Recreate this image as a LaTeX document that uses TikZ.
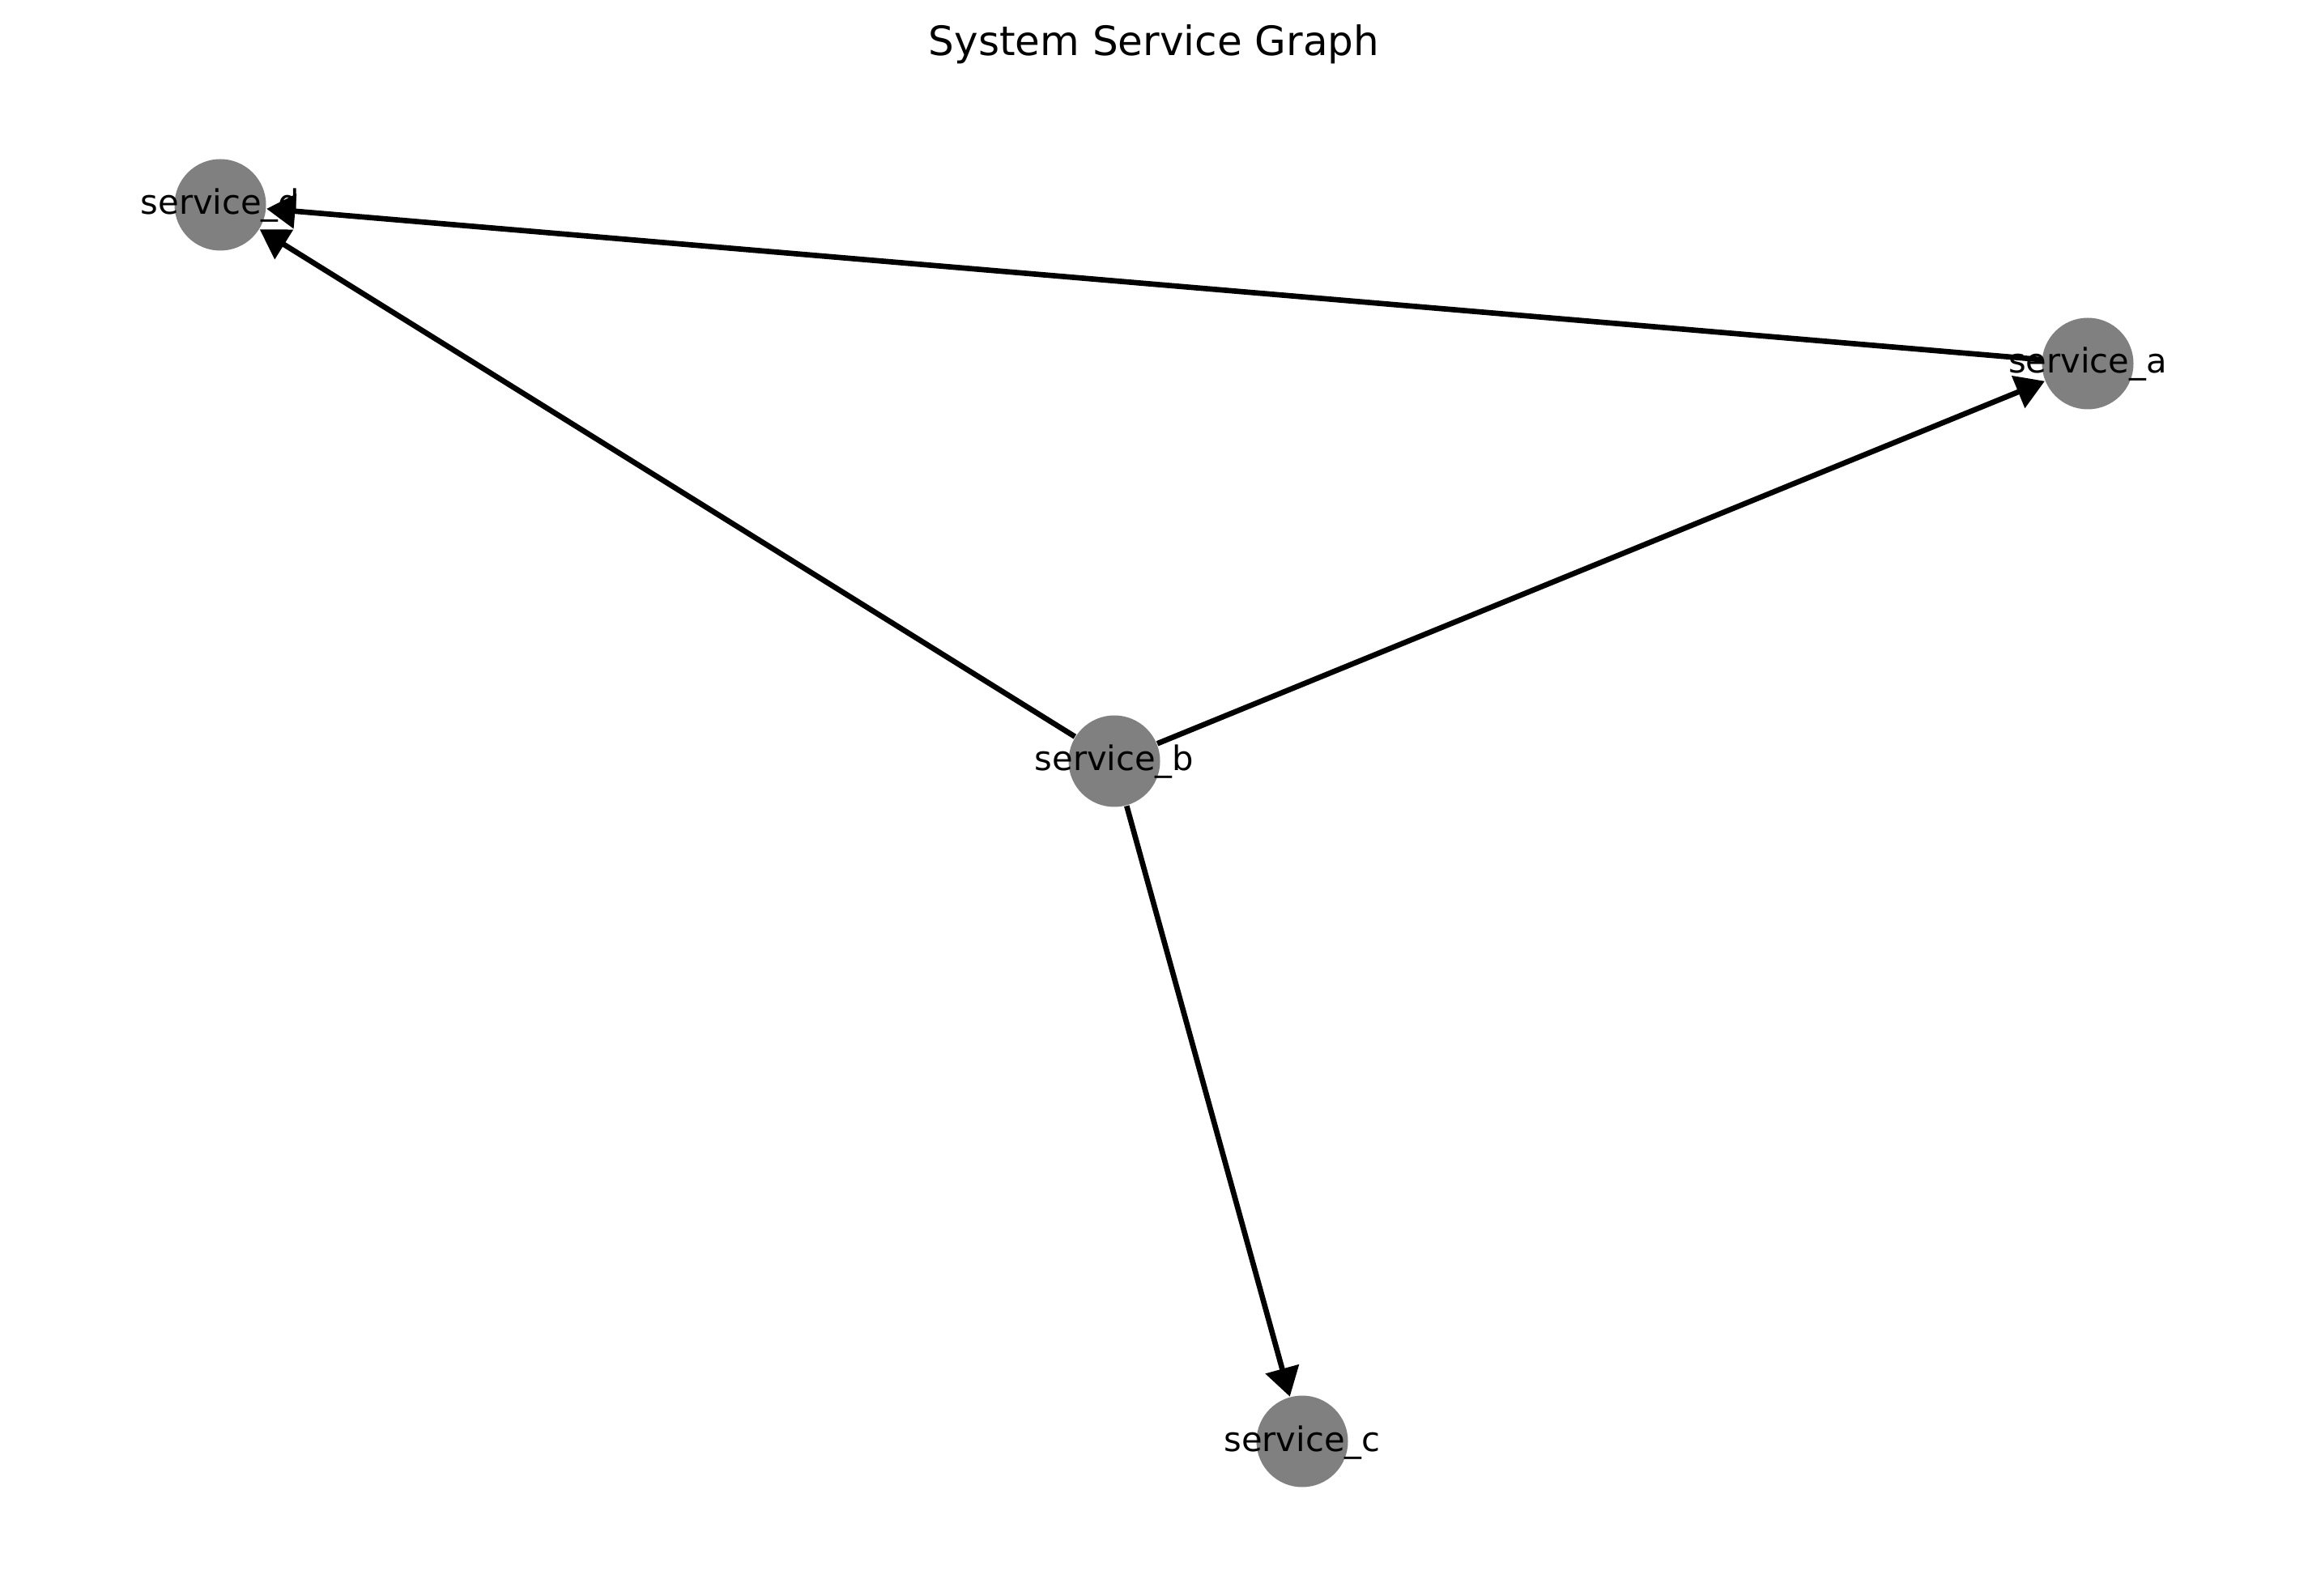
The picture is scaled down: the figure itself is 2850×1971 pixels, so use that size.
\documentclass[tikz,border=0pt]{standalone}
\usepackage{fontspec}
\setmainfont{DejaVu Sans}
\usetikzlibrary{arrows.meta}
\begin{document}
\begin{tikzpicture}[x=0.24pt,y=-0.24pt,
  svc/.style={circle,fill=black!50,minimum size=113*0.24pt,inner sep=0pt,draw=none},
  lbl/.style={inner sep=0pt,anchor=base,font=\fontsize{10pt}{12pt}\selectfont},
  edge/.style={line width=1.6pt,-{Triangle[length=8.5pt,width=10pt]}}]
\useasboundingbox (0,0) rectangle (2850,1971);
\node[inner sep=0pt,anchor=base,font=\fontsize{12pt}{14pt}\selectfont] (title) at (1425,69) {System Service Graph};
\node[svc] (d) at (272,253) {};
\node[svc] (a) at (2578,449) {};
\node[svc] (b) at (1376,940) {};
\node[svc] (c) at (1608,1780) {};
\draw[edge] (b) -- (d);
\draw[edge] (b) -- (a);
\draw[edge] (b) -- (c);
\draw[edge] (a) -- (d);
\node[lbl] (ld) at (272,265) {service\_d};
\node[lbl] (la) at (2578,461) {service\_a};
\node[lbl] (lb) at (1376,952) {service\_b};
\node[lbl] (lc) at (1608,1792) {service\_c};
\end{tikzpicture}
\end{document}
